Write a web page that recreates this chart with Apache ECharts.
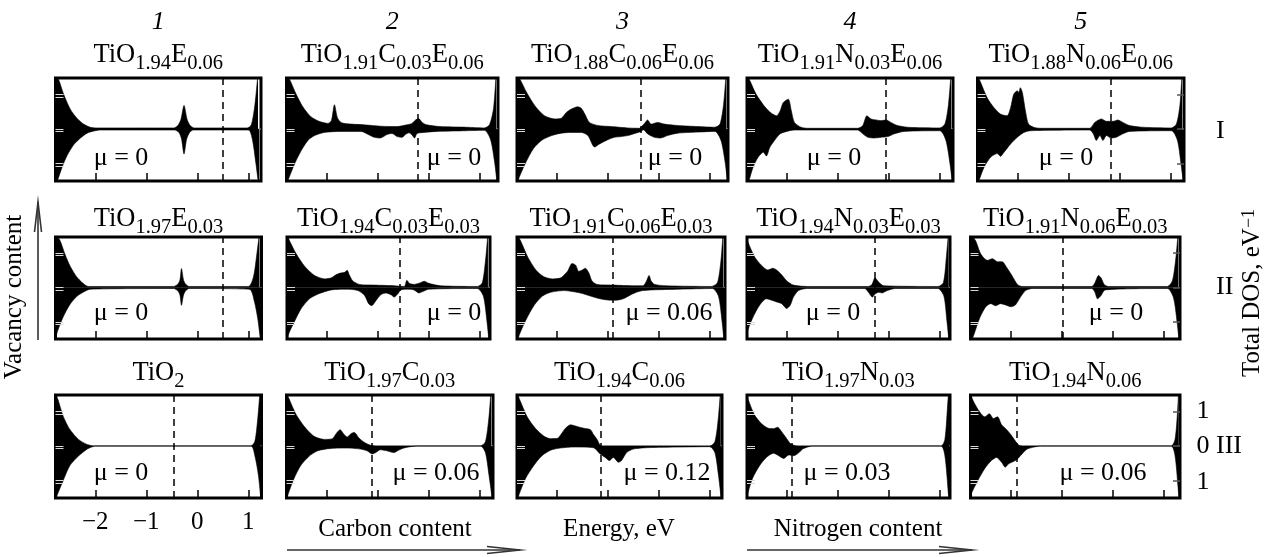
<!DOCTYPE html>
<html>
<head>
<meta charset="utf-8">
<script src="https://cdn.jsdelivr.net/npm/echarts@6/dist/echarts.min.js"></script>
<style>
html,body{margin:0;padding:0;background:#fff;}
#chart{width:1278px;height:557px;}
</style>
</head>
<body>
<div id="chart"></div>
<script>
// ---------------- data ----------------
const columnNumbers = ['1', '2', '3', '4', '5'];
const rowNumerals = ['I', 'II', 'III'];
const energyTicks = [-2, -1, 0, 1];
const dosTicks = [-1, 0, 1];
const dosScaleLabels = ['1', '0', '1'];

// compositions: [element text, subscript]
const titlesRowI = [
  [['TiO', '1.94'], ['E', '0.06']],
  [['TiO', '1.91'], ['C', '0.03'], ['E', '0.06']],
  [['TiO', '1.88'], ['C', '0.06'], ['E', '0.06']],
  [['TiO', '1.91'], ['N', '0.03'], ['E', '0.06']],
  [['TiO', '1.88'], ['N', '0.06'], ['E', '0.06']]
];
const titlesRowII = [
  [['TiO', '1.97'], ['E', '0.03']],
  [['TiO', '1.94'], ['C', '0.03'], ['E', '0.03']],
  [['TiO', '1.91'], ['C', '0.06'], ['E', '0.03']],
  [['TiO', '1.94'], ['N', '0.03'], ['E', '0.03']],
  [['TiO', '1.91'], ['N', '0.06'], ['E', '0.03']]
];
const titlesRowIII = [
  [['TiO', '2']],
  [['TiO', '1.97'], ['C', '0.03']],
  [['TiO', '1.94'], ['C', '0.06']],
  [['TiO', '1.97'], ['N', '0.03']],
  [['TiO', '1.94'], ['N', '0.06']]
];
const muRowI = ['0', '0', '0', '0', '0'];
const muRowII = ['0', '0', '0.06', '0', '0'];
const muRowIII = ['0', '0.06', '0.12', '0.03', '0.06'];

// Fermi level (dashed line), eV
const fermiRowI = [0.5, -0.2, -0.35, -0.05, -0.16];
const fermiRowII = [0.5, -0.57, -0.9, -0.27, -0.98];
const fermiRowIII = [-0.47, -1.1, -1.13, -1.9, -1.87];

// total DOS, spin up (positive) / spin down (negative): [E, DOS]
const up_I_1 = [[-2.8,1.6],[-2.72,1.43],[-2.62,1.0],[-2.49,0.57],[-2.36,0.31],[-2.23,0.14],[-2.1,0.05],[-1.97,0.03],[-0.46,0.03],[-0.38,0.1],[-0.32,0.28],[-0.26,0.68],[-0.2,0.28],[-0.14,0.1],[-0.06,0.03],[0.98,0.03],[1.06,0.12],[1.13,0.7],[1.19,1.6]];
const dn_I_1 = [[-2.8,-1.7],[-2.74,-1.48],[-2.65,-1.1],[-2.55,-0.76],[-2.42,-0.45],[-2.29,-0.26],[-2.16,-0.12],[-2.03,-0.06],[-1.9,-0.03],[-0.44,-0.03],[-0.36,-0.1],[-0.31,-0.28],[-0.26,-0.72],[-0.21,-0.3],[-0.15,-0.1],[-0.08,-0.03],[1.0,-0.03],[1.08,-0.3],[1.15,-1.0],[1.21,-1.7]];

const up_I_2 = [[-2.8,1.6],[-2.72,1.43],[-2.59,1.0],[-2.46,0.64],[-2.3,0.35],[-2.14,0.22],[-1.97,0.16],[-1.9,0.24],[-1.84,0.7],[-1.78,0.32],[-1.7,0.18],[-1.5,0.14],[-1.26,0.12],[-0.94,0.08],[-0.61,0.07],[-0.42,0.12],[-0.32,0.16],[-0.25,0.26],[-0.19,0.3],[-0.12,0.19],[-0.03,0.12],[0.23,0.07],[0.75,0.05],[1.1,0.03],[1.2,0.12],[1.28,0.6],[1.33,1.6]];
const dn_I_2 = [[-2.8,-1.7],[-2.75,-1.48],[-2.62,-1.0],[-2.49,-0.62],[-2.36,-0.33],[-2.23,-0.19],[-2.04,-0.1],[-1.71,-0.07],[-1.32,-0.07],[-1.16,-0.17],[-1.06,-0.24],[-0.94,-0.26],[-0.81,-0.16],[-0.71,-0.13],[-0.61,-0.22],[-0.51,-0.24],[-0.45,-0.16],[-0.38,-0.11],[-0.32,-0.17],[-0.27,-0.26],[-0.22,-0.13],[-0.09,-0.1],[0.17,-0.07],[0.75,-0.05],[1.1,-0.04],[1.22,-0.3],[1.3,-0.95],[1.36,-1.7]];

const up_I_3 = [[-2.8,1.6],[-2.72,1.43],[-2.59,1.05],[-2.43,0.67],[-2.24,0.38],[-2.04,0.29],[-1.91,0.31],[-1.81,0.48],[-1.72,0.57],[-1.59,0.64],[-1.52,0.6],[-1.45,0.43],[-1.36,0.19],[-1.19,0.1],[-0.93,0.07],[-0.61,0.03],[-0.38,0.02],[-0.32,0.1],[-0.28,0.16],[-0.22,0.26],[-0.15,0.14],[-0.02,0.19],[0.11,0.14],[0.37,0.1],[0.76,0.07],[1.1,0.05],[1.2,0.14],[1.27,0.7],[1.32,1.6]];
const dn_I_3 = [[-2.8,-1.7],[-2.76,-1.48],[-2.62,-1.0],[-2.46,-0.57],[-2.3,-0.33],[-2.1,-0.19],[-1.91,-0.12],[-1.72,-0.1],[-1.52,-0.1],[-1.39,-0.19],[-1.26,-0.52],[-1.16,-0.43],[-1.0,-0.31],[-0.87,-0.24],[-0.74,-0.22],[-0.61,-0.19],[-0.45,-0.12],[-0.35,-0.07],[-0.3,-0.02],[-0.22,-0.14],[-0.09,-0.24],[0.04,-0.26],[0.17,-0.19],[0.37,-0.12],[0.76,-0.09],[1.1,-0.07],[1.22,-0.33],[1.3,-0.95],[1.36,-1.7]];

const up_I_4 = [[-2.8,1.6],[-2.72,1.38],[-2.6,1.0],[-2.43,0.64],[-2.3,0.45],[-2.2,0.38],[-2.13,0.52],[-2.07,0.76],[-1.97,0.86],[-1.91,0.52],[-1.85,0.19],[-1.72,0.05],[-1.59,0.02],[-0.61,0.02],[-0.51,0.1],[-0.43,0.38],[-0.35,0.29],[-0.25,0.26],[-0.15,0.24],[-0.05,0.26],[0.04,0.19],[0.17,0.1],[0.37,0.05],[1.0,0.03],[1.1,0.14],[1.17,0.7],[1.22,1.6]];
const dn_I_4 = [[-2.8,-1.7],[-2.74,-1.48],[-2.66,-1.1],[-2.56,-0.81],[-2.46,-0.67],[-2.4,-0.78],[-2.33,-0.52],[-2.24,-0.33],[-2.13,-0.14],[-2.0,-0.07],[-1.85,-0.03],[-0.61,-0.03],[-0.51,-0.14],[-0.41,-0.24],[-0.28,-0.26],[-0.15,-0.24],[-0.02,-0.22],[0.11,-0.14],[0.3,-0.07],[1.0,-0.05],[1.12,-0.33],[1.2,-1.0],[1.26,-1.7]];

const up_I_5 = [[-2.8,1.6],[-2.73,1.38],[-2.59,0.9],[-2.46,0.62],[-2.33,0.43],[-2.2,0.38],[-2.13,0.62],[-2.07,1.0],[-2.0,1.1],[-1.97,1.05],[-1.94,1.19],[-1.9,1.05],[-1.84,0.52],[-1.78,0.14],[-1.68,0.05],[-1.55,0.02],[-0.58,0.02],[-0.48,0.19],[-0.35,0.29],[-0.25,0.22],[-0.12,0.22],[-0.03,0.26],[0.07,0.19],[0.2,0.1],[0.46,0.05],[1.02,0.03],[1.12,0.14],[1.19,0.7],[1.23,1.6]];
const dn_I_5 = [[-2.8,-1.7],[-2.75,-1.48],[-2.65,-1.1],[-2.52,-0.81],[-2.39,-0.71],[-2.33,-0.79],[-2.26,-0.67],[-2.13,-0.43],[-2.0,-0.24],[-1.87,-0.1],[-1.74,-0.05],[-0.58,-0.03],[-0.51,-0.14],[-0.45,-0.33],[-0.38,-0.19],[-0.32,-0.33],[-0.25,-0.19],[-0.16,-0.26],[-0.06,-0.24],[0.07,-0.14],[0.2,-0.07],[1.02,-0.05],[1.14,-0.33],[1.21,-1.0],[1.27,-1.7]];

const up_II_1 = [[-2.8,1.6],[-2.69,1.36],[-2.59,0.95],[-2.5,0.64],[-2.37,0.32],[-2.24,0.12],[-2.14,0.03],[-0.46,0.03],[-0.38,0.1],[-0.34,0.22],[-0.31,0.55],[-0.27,0.22],[-0.23,0.1],[-0.16,0.03],[1.0,0.03],[1.1,0.3],[1.17,1.0],[1.22,1.6]];
const dn_II_1 = [[-2.8,-1.7],[-2.75,-1.32],[-2.63,-0.86],[-2.5,-0.5],[-2.37,-0.27],[-2.24,-0.14],[-2.1,-0.05],[-0.46,-0.03],[-0.38,-0.1],[-0.34,-0.22],[-0.31,-0.52],[-0.27,-0.22],[-0.23,-0.1],[-0.16,-0.03],[1.02,-0.05],[1.12,-0.41],[1.19,-0.95],[1.25,-1.7]];

const up_II_2 = [[-2.8,1.6],[-2.73,1.36],[-2.6,0.98],[-2.43,0.61],[-2.24,0.35],[-2.04,0.25],[-1.91,0.28],[-1.82,0.37],[-1.73,0.42],[-1.65,0.44],[-1.6,0.5],[-1.56,0.37],[-1.49,0.19],[-1.36,0.09],[-1.07,0.07],[-0.68,0.05],[-0.48,0.03],[-0.43,0.21],[-0.38,0.12],[-0.29,0.09],[-0.16,0.14],[-0.09,0.18],[0.0,0.12],[0.23,0.05],[0.95,0.03],[1.05,0.14],[1.12,0.9],[1.16,1.6]];
const dn_II_2 = [[-2.8,-1.7],[-2.75,-1.36],[-2.63,-0.98],[-2.5,-0.61],[-2.34,-0.33],[-2.17,-0.19],[-1.91,-0.07],[-1.59,-0.05],[-1.39,-0.09],[-1.26,-0.23],[-1.18,-0.47],[-1.12,-0.53],[-1.03,-0.37],[-0.94,-0.21],[-0.84,-0.16],[-0.74,-0.21],[-0.68,-0.28],[-0.61,-0.19],[-0.55,-0.07],[-0.42,-0.05],[-0.29,-0.07],[-0.19,-0.16],[-0.12,-0.12],[0.0,-0.05],[0.95,-0.03],[1.07,-0.25],[1.14,-0.98],[1.19,-1.7]];

const up_II_3 = [[-2.8,1.6],[-2.71,1.36],[-2.57,0.89],[-2.41,0.51],[-2.25,0.31],[-2.08,0.25],[-1.92,0.28],[-1.79,0.47],[-1.7,0.7],[-1.63,0.65],[-1.57,0.47],[-1.5,0.51],[-1.44,0.56],[-1.37,0.42],[-1.31,0.19],[-1.21,0.09],[-0.89,0.07],[-0.5,0.05],[-0.31,0.05],[-0.25,0.16],[-0.19,0.35],[-0.15,0.19],[-0.08,0.09],[0.14,0.05],[1.03,0.03],[1.15,0.14],[1.22,0.8],[1.26,1.6]];
const dn_II_3 = [[-2.8,-1.7],[-2.73,-1.36],[-2.6,-0.93],[-2.44,-0.51],[-2.28,-0.25],[-2.12,-0.14],[-1.86,-0.09],[-1.54,-0.16],[-1.34,-0.25],[-1.15,-0.33],[-0.95,-0.37],[-0.83,-0.37],[-0.7,-0.33],[-0.57,-0.23],[-0.44,-0.14],[-0.31,-0.09],[-0.12,-0.07],[0.4,-0.05],[1.05,-0.03],[1.17,-0.25],[1.24,-0.98],[1.29,-1.7]];

const up_II_4 = [[-2.8,1.6],[-2.77,1.36],[-2.63,0.89],[-2.5,0.65],[-2.37,0.51],[-2.27,0.56],[-2.2,0.51],[-2.1,0.37],[-2.0,0.19],[-1.87,0.07],[-1.6,0.03],[-0.4,0.03],[-0.33,0.09],[-0.27,0.28],[-0.2,0.16],[-0.1,0.05],[0.96,0.03],[1.07,0.14],[1.13,0.9],[1.17,1.6]];
const dn_II_4 = [[-2.8,-1.6],[-2.79,-1.36],[-2.67,-0.89],[-2.53,-0.51],[-2.4,-0.33],[-2.3,-0.37],[-2.2,-0.42],[-2.1,-0.47],[-2.0,-0.61],[-1.93,-0.51],[-1.87,-0.28],[-1.77,-0.09],[-1.6,-0.03],[-0.47,-0.03],[-0.4,-0.14],[-0.32,-0.28],[-0.27,-0.19],[-0.2,-0.14],[-0.13,-0.16],[-0.03,-0.09],[0.13,-0.03],[0.96,-0.03],[1.08,-0.25],[1.14,-0.98],[1.19,-1.7]];

const up_II_5 = [[-2.8,1.6],[-2.68,1.36],[-2.58,0.98],[-2.45,0.79],[-2.35,0.84],[-2.25,0.75],[-2.16,0.75],[-2.06,0.56],[-1.96,0.33],[-1.86,0.09],[-1.77,0.03],[-0.4,0.03],[-0.34,0.14],[-0.27,0.35],[-0.22,0.28],[-0.16,0.09],[-0.08,0.03],[1.08,0.03],[1.18,0.2],[1.25,0.9],[1.29,1.6]];
const dn_II_5 = [[-2.8,-1.7],[-2.71,-1.36],[-2.6,-0.89],[-2.48,-0.56],[-2.38,-0.47],[-2.29,-0.53],[-2.19,-0.47],[-2.09,-0.51],[-1.99,-0.56],[-1.9,-0.51],[-1.8,-0.28],[-1.7,-0.09],[-1.57,-0.03],[-0.4,-0.03],[-0.34,-0.14],[-0.29,-0.33],[-0.22,-0.23],[-0.14,-0.07],[1.08,-0.03],[1.2,-0.3],[1.27,-1.0],[1.32,-1.7]];

const up_III_1 = [[-2.8,1.6],[-2.73,1.33],[-2.63,0.86],[-2.5,0.48],[-2.33,0.19],[-2.17,0.05],[-2.07,0.01],[-2.0,0],[1.05,0],[1.13,0.14],[1.19,0.86],[1.23,1.6]];
const dn_III_1 = [[-2.8,-1.7],[-2.75,-1.43],[-2.63,-1.0],[-2.5,-0.57],[-2.33,-0.29],[-2.17,-0.1],[-2.07,-0.03],[-2.0,0],[1.05,0],[1.13,-0.29],[1.2,-0.86],[1.25,-1.6]];

const up_III_2 = [[-2.8,1.6],[-2.73,1.36],[-2.6,0.93],[-2.43,0.56],[-2.24,0.28],[-2.04,0.19],[-1.88,0.21],[-1.8,0.37],[-1.73,0.47],[-1.65,0.33],[-1.59,0.26],[-1.51,0.36],[-1.45,0.39],[-1.36,0.23],[-1.26,0.11],[-1.13,0.02],[-1.0,0],[1.02,0],[1.12,0.12],[1.19,0.84],[1.23,1.6]];
const dn_III_2 = [[-2.8,-1.7],[-2.75,-1.4],[-2.63,-0.93],[-2.5,-0.56],[-2.34,-0.3],[-2.17,-0.14],[-1.91,-0.07],[-1.59,-0.06],[-1.33,-0.09],[-1.2,-0.14],[-1.1,-0.23],[-1.03,-0.19],[-0.94,-0.11],[-0.81,-0.14],[-0.68,-0.19],[-0.58,-0.12],[-0.48,-0.06],[-0.35,-0.02],[-0.2,0],[1.02,0],[1.12,-0.19],[1.19,-0.84],[1.26,-1.6]];

const up_III_3 = [[-2.8,1.6],[-2.72,1.31],[-2.58,0.84],[-2.42,0.51],[-2.25,0.28],[-2.12,0.21],[-1.99,0.22],[-1.9,0.37],[-1.83,0.51],[-1.73,0.61],[-1.6,0.56],[-1.47,0.51],[-1.34,0.47],[-1.28,0.33],[-1.21,0.19],[-1.15,0.02],[-1.1,0],[1.0,0],[1.1,0.12],[1.17,0.84],[1.21,1.6]];
const dn_III_3 = [[-2.8,-1.7],[-2.74,-1.4],[-2.61,-0.93],[-2.45,-0.56],[-2.29,-0.28],[-2.12,-0.12],[-1.93,-0.06],[-1.67,-0.03],[-1.28,-0.05],[-1.15,-0.23],[-1.05,-0.33],[-0.97,-0.42],[-0.89,-0.33],[-0.79,-0.47],[-0.73,-0.42],[-0.63,-0.19],[-0.5,-0.09],[-0.24,-0.05],[0.41,-0.03],[1.0,-0.02],[1.1,-0.19],[1.17,-0.84],[1.23,-1.6]];

const up_III_4 = [[-2.8,1.6],[-2.75,1.31],[-2.63,0.89],[-2.5,0.65],[-2.36,0.51],[-2.26,0.5],[-2.18,0.54],[-2.13,0.47],[-2.06,0.33],[-2.0,0.21],[-1.93,0.07],[-1.86,0.02],[-1.8,0],[1.02,0],[1.1,0.19],[1.16,1.31],[1.18,1.6]];
const dn_III_4 = [[-2.8,-1.7],[-2.77,-1.4],[-2.67,-0.93],[-2.53,-0.56],[-2.4,-0.33],[-2.26,-0.21],[-2.16,-0.28],[-2.06,-0.36],[-1.96,-0.26],[-1.86,-0.28],[-1.76,-0.19],[-1.69,-0.09],[-1.59,-0.03],[-1.5,0],[1.02,0],[1.1,-0.28],[1.17,-1.4],[1.19,-1.7]];

const up_III_5 = [[-2.8,1.6],[-2.73,1.31],[-2.6,0.98],[-2.5,0.84],[-2.41,0.93],[-2.33,0.79],[-2.25,0.84],[-2.17,0.61],[-2.07,0.47],[-1.99,0.33],[-1.9,0.14],[-1.83,0.02],[-1.75,0],[1.15,0],[1.23,0.19],[1.28,1.0],[1.3,1.6]];
const dn_III_5 = [[-2.8,-1.7],[-2.77,-1.4],[-2.63,-0.98],[-2.5,-0.65],[-2.37,-0.42],[-2.27,-0.33],[-2.17,-0.47],[-2.1,-0.61],[-2.03,-0.51],[-1.97,-0.47],[-1.87,-0.39],[-1.77,-0.23],[-1.67,-0.09],[-1.53,-0.03],[-1.4,0],[1.15,0],[1.23,-0.28],[1.29,-1.2],[1.32,-1.7]];

// ---------------- layout ----------------
const FONT = 'Liberation Serif';
const rowTop = [78, 237, 395];
const rowHeight = [103, 102, 103];
const colLeft = [[55.5, 286.5, 517, 747, 977.5], [55.5, 287, 517, 747, 970.5], [55.5, 286.5, 517, 747, 970.5]];
const colWidth = [[205.5, 211.5, 211, 206, 206.5], [206, 203, 208, 203, 209.5], [206, 206.5, 205, 203, 209.5]];
const titleMainY = [55, 219, 373.5];
const SUB_DY = 8.5;
const MAIN_SIZE = 26.5, SUB_SIZE = 20.5;
const muY = [158, 313, 473];
const muX = [[121, 454, 675, 834, 1066], [121, 454, 669, 833, 1116], [121, 436, 667, 847, 1103]];
const X_MIN = -2.78, PX_PER_EV = 51;
const Y_MIN = -1.5, Y_MAX = 1.47;

const titles = [titlesRowI, titlesRowII, titlesRowIII];
const mus = [muRowI, muRowII, muRowIII];
const fermis = [fermiRowI, fermiRowII, fermiRowIII];
const ups = [[up_I_1, up_I_2, up_I_3, up_I_4, up_I_5], [up_II_1, up_II_2, up_II_3, up_II_4, up_II_5], [up_III_1, up_III_2, up_III_3, up_III_4, up_III_5]];
const dns = [[dn_I_1, dn_I_2, dn_I_3, dn_I_4, dn_I_5], [dn_II_1, dn_II_2, dn_II_3, dn_II_4, dn_II_5], [dn_III_1, dn_III_2, dn_III_3, dn_III_4, dn_III_5]];

const mctx = document.createElement('canvas').getContext('2d');
function textWidth(t, size) { mctx.font = size + 'px "' + FONT + '"'; return mctx.measureText(t).width; }

const grids = [], xAxes = [], yAxes = [], series = [], graphics = [];
const minus = v => (v < 0 ? '\u2212' + Math.abs(v) : String(v));
const noLine = { show: false, onZero: false };

function addTitle(tokens, cx, cy) {
  let total = 0;
  tokens.forEach(([a, b]) => { total += textWidth(a, MAIN_SIZE) + textWidth(b, SUB_SIZE); });
  let x = cx - total / 2;
  tokens.forEach(([a, b]) => {
    graphics.push({ type: 'text', x, y: cy, style: { text: a, fontFamily: FONT, fontSize: MAIN_SIZE, fill: '#000', align: 'left', verticalAlign: 'middle' } });
    x += textWidth(a, MAIN_SIZE);
    graphics.push({ type: 'text', x, y: cy + SUB_DY, style: { text: b, fontFamily: FONT, fontSize: SUB_SIZE, fill: '#000', align: 'left', verticalAlign: 'middle' } });
    x += textWidth(b, SUB_SIZE);
  });
}

let gi = 0, yi = 0;
for (let r = 0; r < 3; r++) {
  for (let c = 0; c < 5; c++) {
    const left = colLeft[r][c], width = colWidth[r][c];
    const xMax = X_MIN + width / PX_PER_EV;
    grids.push({ left, top: rowTop[r], width, height: rowHeight[r], show: true, borderColor: '#000', borderWidth: 3, backgroundColor: '#fff' });
    const showLabels = (r === 2 && c === 0);
    xAxes.push({
      type: 'value', gridIndex: gi, min: X_MIN, max: xMax, position: 'bottom', z: 10,
      axisLine: noLine, splitLine: { show: false },
      axisTick: { show: true, inside: true, length: 8, customValues: energyTicks, lineStyle: { color: '#000', width: 1.5 } },
      axisLabel: { show: showLabels, customValues: energyTicks, formatter: minus, fontFamily: FONT, fontSize: 25, color: '#000', margin: 12 }
    });
    const yMain = yi;
    const yTick = (mn, mx, pos, color, len, w) => ({
      type: 'value', gridIndex: gi, min: mn, max: mx, position: pos, z: 10,
      axisLine: noLine, splitLine: { show: false }, axisLabel: { show: false },
      axisTick: { show: true, inside: true, length: len, customValues: dosTicks, lineStyle: { color, width: w } }
    });
    yAxes.push(yTick(Y_MIN, Y_MAX, 'left', '#d8d8d8', 8, 1)); yi++;
    yAxes.push(yTick(Y_MIN + 0.075, Y_MAX + 0.075, 'left', '#d8d8d8', 8, 1)); yi++;
    if (c === 4) { yAxes.push(yTick(Y_MIN, Y_MAX, 'right', '#555', 7, 1.5)); yi++; }

    // zero line
    series.push({
      type: 'line', xAxisIndex: gi, yAxisIndex: yMain, data: [[X_MIN, 0], [xMax, 0]],
      symbol: 'none', silent: true, z: 1, lineStyle: { color: '#999', width: 1 }
    });
    const common = { type: 'line', xAxisIndex: gi, yAxisIndex: yMain, symbol: 'none', smooth: 0.25, silent: true, z: 2,
      lineStyle: { color: '#000', width: 0.6 }, areaStyle: { color: '#000', opacity: 1 } };
    series.push(Object.assign({}, common, { data: ups[r][c],
      markLine: { silent: true, symbol: ['none', 'none'], label: { show: false }, animation: false,
        lineStyle: { color: '#000', type: [7, 5], width: 1.5 }, data: [{ xAxis: fermis[r][c] }] } }));
    series.push(Object.assign({}, common, { data: dns[r][c] }));

    addTitle(titles[r][c], left + width / 2, titleMainY[r]);
    graphics.push({ type: 'text', x: muX[r][c], y: muY[r], style: { text: '\u03bc = ' + mus[r][c], fontFamily: FONT, fontSize: 26, fill: '#000', align: 'center', verticalAlign: 'middle' } });
    if (r === 0) {
      graphics.push({ type: 'text', x: left + width / 2, y: 22, style: { text: columnNumbers[c], fontFamily: FONT, fontStyle: 'italic', fontSize: 26, fill: '#000', align: 'center', verticalAlign: 'middle' } });
    }
    gi++;
  }
}

// row numerals and DOS scale labels
const numeralY = [131, 287, 446];
rowNumerals.forEach((n, i) => {
  graphics.push({ type: 'text', x: 1216, y: numeralY[i], style: { text: n, fontFamily: FONT, fontSize: 26, fill: '#000', align: 'left', verticalAlign: 'middle' } });
});
const scaleY = [411, 446, 482];
dosScaleLabels.forEach((s, i) => {
  graphics.push({ type: 'text', x: 1203, y: scaleY[i], style: { text: s, fontFamily: FONT, fontSize: 26, fill: '#000', align: 'center', verticalAlign: 'middle' } });
});

// axis captions
graphics.push({ type: 'text', x: 395, y: 529, style: { text: 'Carbon content', fontFamily: FONT, fontSize: 25, fill: '#000', align: 'center', verticalAlign: 'middle' } });
graphics.push({ type: 'text', x: 619, y: 529, style: { text: 'Energy, eV', fontFamily: FONT, fontSize: 25, fill: '#000', align: 'center', verticalAlign: 'middle' } });
graphics.push({ type: 'text', x: 858, y: 529, style: { text: 'Nitrogen content', fontFamily: FONT, fontSize: 25, fill: '#000', align: 'center', verticalAlign: 'middle' } });
graphics.push({ type: 'text', x: 14, y: 297, rotation: Math.PI / 2, style: { text: 'Vacancy content', fontFamily: FONT, fontSize: 25, fill: '#000', align: 'center', verticalAlign: 'middle' } });
graphics.push({ type: 'text', x: 1260, y: 293, rotation: Math.PI / 2, style: {
  text: '{m|Total DOS, eV}{p|\u22121}', align: 'center', verticalAlign: 'middle',
  rich: { m: { fontFamily: FONT, fontSize: 25, lineHeight: 40, verticalAlign: 'top', fill: '#000' },
          p: { fontFamily: FONT, fontSize: 18, lineHeight: 24, verticalAlign: 'top', fill: '#000' } } } });

// arrows
const arrowStyle = { stroke: '#333', lineWidth: 1.6, fill: null };
graphics.push({ type: 'line', shape: { x1: 287, y1: 550, x2: 520, y2: 550 }, style: arrowStyle });
graphics.push({ type: 'polyline', shape: { points: [[487, 546.5], [520, 550], [487, 553.5]] }, style: arrowStyle });
graphics.push({ type: 'line', shape: { x1: 747, y1: 550, x2: 972, y2: 550 }, style: arrowStyle });
graphics.push({ type: 'polyline', shape: { points: [[939, 546.5], [972, 550], [939, 553.5]] }, style: arrowStyle });
graphics.push({ type: 'line', shape: { x1: 38, y1: 340, x2: 38, y2: 202 }, style: arrowStyle });
graphics.push({ type: 'polyline', shape: { points: [[34.5, 232], [38, 202], [41.5, 232]] }, style: arrowStyle });

const chart = echarts.init(document.getElementById('chart'), null, { renderer: 'canvas' });
chart.setOption({
  animation: false,
  backgroundColor: '#fff',
  grid: grids,
  xAxis: xAxes,
  yAxis: yAxes,
  series: series,
  graphic: graphics
});
</script>
</body>
</html>
